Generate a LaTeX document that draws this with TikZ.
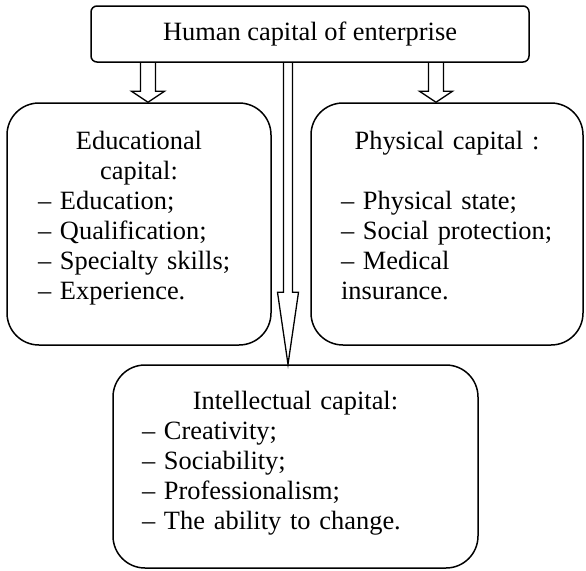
\documentclass[tikz,border=0pt]{standalone}
\usepackage{fontspec}
\setmainfont{Liberation Serif}
\usetikzlibrary{calc}

\tikzset{
  capfont/.style={font=\fontsize{26.4}{30}\selectfont},
  capbox/.style={draw, line width=1.5pt, rounded corners=32pt},
  captext/.style={capfont, inner sep=0pt, anchor=north},
  blockline/.style={line width=1.3pt, line join=miter}
}

% hollow block arrow: from (y of #1) down to #2, shaft half width #3, head half width #4, head length #5
\newcommand{\blockarrow}[5]{%
  \draw[blockline] let \p1=(#1), \p2=(#2) in
    (\x2-#3,\y1) -- (\x2-#3,\y2+#5) -- (\x2-#4,\y2+#5) -- (\x2,\y2)
    -- (\x2+#4,\y2+#5) -- (\x2+#3,\y2+#5) -- (\x2+#3,\y1);}

\begin{document}
\begin{tikzpicture}[x=1pt, y=-1pt]
\useasboundingbox (0,0) rectangle (586,570);

% boxes
\node[capbox, capfont, rounded corners=6pt, minimum width=438pt, minimum height=56pt] (human) at (310,34) {Human capital of enterprise};
\node[capbox, minimum width=264pt, minimum height=242pt] (edu) at (139,224) {};
\node[capbox, minimum width=272pt, minimum height=242pt] (phys) at (447,224) {};
\node[capbox, minimum width=365pt, minimum height=203pt] (intel) at (295.5,466.5) {};

% texts
\node[captext, text width=202pt] (edutext) at ([yshift=-29pt]edu.north)
  {\centering Educational\\capital:\par\raggedright – Education;\\– Qualification;\\– Specialty skills;\\– Experience.};
\node[captext, text width=212pt] (phystext) at ([yshift=-29pt]phys.north)
  {\centering Physical capital :\par\vspace{30pt}\raggedright – Physical state;\\– Social protection;\\– Medical\\insurance.};
\node[captext, text width=307pt] (inteltext) at ([yshift=-27pt]intel.north)
  {\centering Intellectual capital:\par\raggedright – Creativity;\\– Sociability;\\– Professionalism;\\– The ability to change.};

% arrows
\blockarrow{human.south}{[xshift=9pt]edu.north}{7.5pt}{16.5pt}{11pt}
\blockarrow{human.south}{[xshift=-11pt]phys.north}{7.5pt}{16.5pt}{11pt}
\blockarrow{human.south}{[xshift=-7.5pt]intel.north}{4.5pt}{10.5pt}{72pt}
\end{tikzpicture}
\end{document}
